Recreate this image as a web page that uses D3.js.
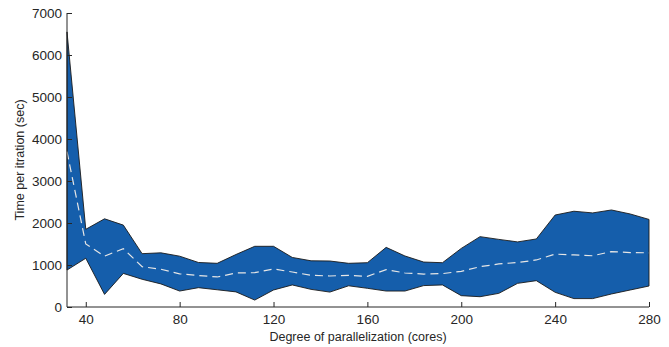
<!DOCTYPE html>
<html lang="en">
<head>
    <meta charset="UTF-8">
    <title>Time per iteration vs degree of parallelization</title>
    <script src="https://d3js.org/d3.v7.min.js"></script>
    <style>
        body {
            margin: 0;
            background: #fff;
            font-family: "Liberation Sans", Arial, sans-serif;
        }
        svg {
            display: block;
        }
        .axis path, .axis line {
            stroke: #262626;
        }
        .axis text {
            font-size: 13.5px;
            fill: #262626;
            font-family: "Liberation Sans", Arial, sans-serif;
        }
        .axis-label {
            font-size: 12.5px;
            fill: #262626;
        }
    </style>
</head>
<body>
    <svg id="chart"></svg>
    <script>
        // number of cores (x)
        const cores = [32, 40, 48, 56, 64, 72, 80, 88, 96, 104, 112, 120, 128, 136, 144, 152,
                       160, 168, 176, 184, 192, 200, 208, 216, 224, 232, 240, 248, 256, 264, 272, 280];
        // upper / lower bound and median of time per iteration (sec)
        const upper = [6550, 1850, 2100, 1950, 1270, 1290, 1210, 1060, 1040, 1250, 1445, 1445, 1180, 1100, 1095, 1040,
                       1055, 1420, 1215, 1070, 1055, 1395, 1675, 1610, 1550, 1620, 2190, 2280, 2240, 2310, 2215, 2085];
        const lower = [880, 1160, 300, 800, 660, 550, 380, 460, 410, 360, 165, 405, 525, 420, 355, 505,
                       445, 380, 380, 510, 525, 270, 245, 325, 563, 627, 350, 200, 200, 310, 405, 500];
        const median = [3700, 1500, 1210, 1390, 960, 900, 790, 750, 715, 810, 817, 905, 833, 755, 738, 755,
                        730, 890, 810, 785, 795, 850, 960, 1025, 1060, 1120, 1260, 1240, 1220, 1320, 1295, 1290];
        const xTicks = [40, 80, 120, 160, 200, 240, 280];
        const yTicks = [0, 1000, 2000, 3000, 4000, 5000, 6000, 7000];

        const width = 669, height = 347;
        const margin = { top: 13, right: 20, bottom: 40, left: 67 };

        const svg = d3.select("#chart").attr("width", width).attr("height", height);

        const x = d3.scaleLinear()
            .domain([32, 280])
            .range([margin.left, width - margin.right]);

        const y = d3.scaleLinear()
            .domain([0, 7000])
            .range([height - margin.bottom, margin.top]);

        const data = cores.map((c, i) => ({ c: c, lo: lower[i], hi: upper[i], med: median[i] }));

        // band between lower and upper
        const area = d3.area()
            .x(d => x(d.c))
            .y0(d => y(d.lo))
            .y1(d => y(d.hi));

        svg.append("path")
            .datum(data)
            .attr("d", area)
            .attr("fill", "#155eab")
            .attr("stroke", "#1a1a1a")
            .attr("stroke-width", 0.9)
            .attr("stroke-linejoin", "round");

        // dashed median line
        const line = d3.line()
            .x(d => x(d.c))
            .y(d => y(d.med));

        svg.append("path")
            .datum(data)
            .attr("d", line)
            .attr("fill", "none")
            .attr("stroke", "#e6e6e6")
            .attr("stroke-width", 1.2)
            .attr("stroke-dasharray", "8,5");

        // axes, ticks pointing inside
        svg.append("g")
            .attr("class", "axis")
            .attr("transform", `translate(0,${height - margin.bottom})`)
            .call(d3.axisBottom(x).tickValues(xTicks).tickSizeInner(-5).tickSizeOuter(0).tickPadding(7))
            .call(g => g.select(".domain").attr("d", `M${margin.left},0H${width - margin.right}`));

        svg.append("g")
            .attr("class", "axis")
            .attr("transform", `translate(${margin.left},0)`)
            .call(d3.axisLeft(y).tickValues(yTicks).tickFormat(d3.format("d"))
                .tickSizeInner(-5).tickSizeOuter(0).tickPadding(5))
            .call(g => g.select(".domain").attr("d", `M0,${height - margin.bottom}V${margin.top}`));

        svg.append("text")
            .attr("class", "axis-label")
            .attr("x", (margin.left + width - margin.right) / 2)
            .attr("y", 341)
            .attr("text-anchor", "middle")
            .text("Degree of parallelization (cores)");

        svg.append("text")
            .attr("class", "axis-label")
            .attr("transform", `translate(24,${(margin.top + height - margin.bottom) / 2}) rotate(-90)`)
            .attr("text-anchor", "middle")
            .text("Time per itration (sec)");
    </script>
</body>
</html>
